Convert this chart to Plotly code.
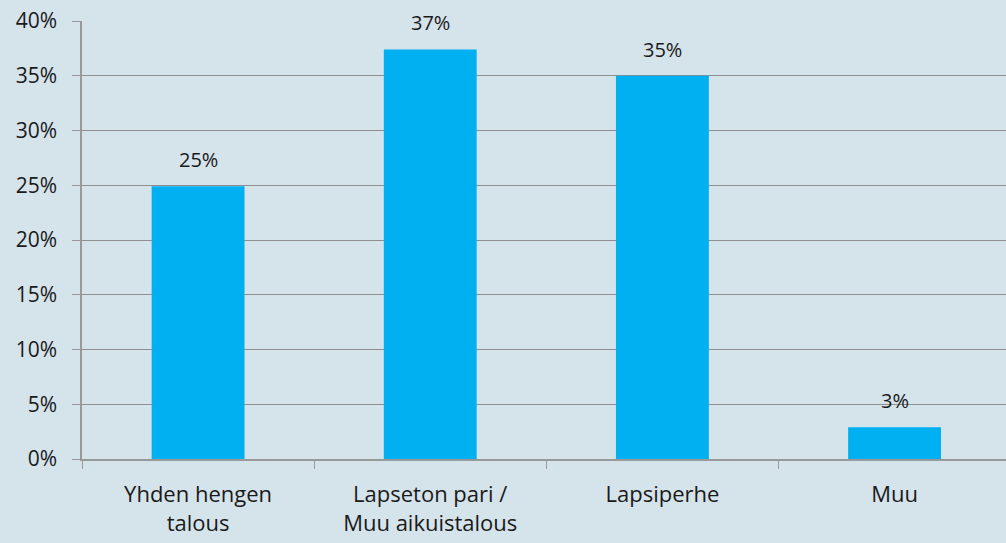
import plotly.graph_objects as go

categories = ["Yhden hengen<br>talous", "Lapseton pari /<br>Muu aikuistalous", "Lapsiperhe", "Muu"]
values = [24.9, 37.4, 35.0, 2.9]
labels = ["25%", "37%", "35%", "3%"]
y_ticks = [0, 5, 10, 15, 20, 25, 30, 35, 40]
y_ticktext = ["0%", "5%", "10%", "15%", "20%", "25%", "30%", "35%", "40%"]

bg = "#D5E3EB"
font_family = "'Open Sans', Lato, sans-serif"

fig = go.Figure(go.Bar(
    x=categories,
    y=values,
    marker=dict(color="#00B0F0", line=dict(width=0)),
    width=0.4,
))

for c, v, t in zip(categories, values, labels):
    fig.add_annotation(x=c, y=v, text=t, showarrow=False, yanchor="bottom",
                       yshift=11, font=dict(size=20, color="#1a1a1a", family=font_family))

fig.update_layout(
    width=1006, height=543,
    paper_bgcolor=bg, plot_bgcolor=bg,
    margin=dict(l=82, r=0, t=21, b=84),
    showlegend=False,
    font=dict(family=font_family, size=21, color="#1a1a1a"),
)
fig.update_xaxes(
    type="category",
    range=[-0.5, 3.48], tickson="boundaries", ticks="outside", ticklen=8,
    tickcolor="#999999", showline=True, linecolor="#999999", linewidth=1.5,
    showgrid=False, tickfont=dict(size=22), zeroline=False, ticklabelstandoff=15,
)
fig.update_yaxes(
    range=[0, 40], tickmode="array", tickvals=y_ticks, ticktext=y_ticktext,
    ticks="outside", ticklen=8, tickcolor="#999999",
    showline=True, linecolor="#999999", linewidth=1.5,
    showgrid=True, gridcolor="#8f8f8f", gridwidth=1, zeroline=False,
    tickfont=dict(size=21), ticklabelstandoff=11,
)

fig.write_html("out.html", config={"displayModeBar": False},
               post_script="document.body.style.margin='0';")
